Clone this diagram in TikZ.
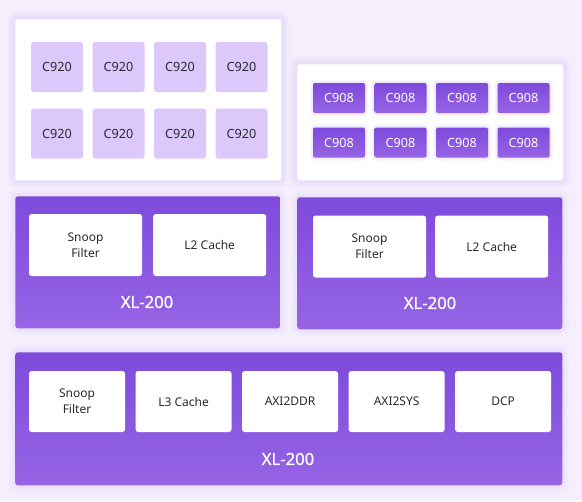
\documentclass[tikz,border=0pt]{standalone}
\usepackage{fontspec}
\setmainfont{Noto Sans}
\newfontfamily\xlfont[FakeBold=0.8]{Noto Sans}
\definecolor{XLtop}{HTML}{7E4ADC}
\definecolor{XLbot}{HTML}{9664E4}
\definecolor{Clight}{HTML}{DCC8FB}
\definecolor{BGlav}{HTML}{F5EFFD}
\definecolor{Halo}{HTML}{DCC8F8}
\definecolor{TXdark}{HTML}{2A2A30}
\usetikzlibrary{positioning}

\begin{document}
\begin{tikzpicture}[
  x=0.75pt,y=-0.75pt,
  panel/.style={rounded corners=2pt,minimum width=199.5pt,anchor=north west,inner sep=0pt},
  whitepanel/.style={panel,fill=white,
    preaction={draw=Halo,line width=12pt,opacity=0.12},
    preaction={draw=Halo,line width=8pt,opacity=0.15},
    preaction={draw=Halo,line width=4pt,opacity=0.2}},
  xlpanel/.style={panel,top color=XLtop,bottom color=XLbot,
    preaction={draw=Halo,line width=10pt,opacity=0.15},
    preaction={draw=Halo,line width=5pt,opacity=0.2}},
  bigcore/.style={fill=Clight,rounded corners=2pt,minimum width=39pt,minimum height=37.5pt,
    inner sep=0pt,text=TXdark,font=\fontsize{9.5}{11}\selectfont},
  smallcore/.style={top color=XLtop,bottom color=XLbot,rounded corners=1.5pt,minimum width=39pt,
    minimum height=22.5pt,inner sep=0pt,text=white,font=\fontsize{9.5}{11}\selectfont,
    preaction={draw=Halo,line width=5pt,opacity=0.15},
    preaction={draw=Halo,line width=2.5pt,opacity=0.25}},
  unitbox/.style={fill=white,rounded corners=2pt,minimum width=84.75pt,minimum height=46.5pt,
    inner sep=0pt,align=center,text=TXdark,font=\fontsize{9}{12}\selectfont},
  wideunit/.style={unitbox,minimum width=72pt,minimum height=45.75pt},
  xllabel/.style={text=white,font=\xlfont\fontsize{12.5}{14}\selectfont}
]
\fill[BGlav] (0,0) rectangle (582,501);
\useasboundingbox (0,0) rectangle (582,501);

% panels
\node[whitepanel,minimum height=120.75pt] (bigpanel) at (15,19) {};
\node[whitepanel,minimum height=87pt] (smallpanel) at (297,64) {};
\node[xlpanel,minimum width=198.75pt,minimum height=99pt] (xlleft) at (15,196) {};
\node[xlpanel,minimum width=198.75pt,minimum height=99pt] (xlright) at (297,197) {};
\node[xlpanel,minimum width=410.25pt,minimum height=99.75pt] (xlbottom) at (15,352) {};

% C920 cluster
\node[bigcore] (c1) at (57,67) {C920};
\node[bigcore,right=6.75pt of c1] (c2) {C920};
\node[bigcore,right=6.75pt of c2] (c3) {C920};
\node[bigcore,right=6.75pt of c3] (c4) {C920};
\node[bigcore,below=12pt of c1] (c5) {C920};
\node[bigcore,right=6.75pt of c5] (c6) {C920};
\node[bigcore,right=6.75pt of c6] (c7) {C920};
\node[bigcore,right=6.75pt of c7] (c8) {C920};

% C908 cluster
\node[smallcore] (d1) at (339,98) {C908};
\node[smallcore,right=6.75pt of d1] (d2) {C908};
\node[smallcore,right=6.75pt of d2] (d3) {C908};
\node[smallcore,right=6.75pt of d3] (d4) {C908};
\node[smallcore,below=10.5pt of d1] (d5) {C908};
\node[smallcore,right=6.75pt of d5] (d6) {C908};
\node[smallcore,right=6.75pt of d6] (d7) {C908};
\node[smallcore,right=6.75pt of d7] (d8) {C908};

% interconnects
\node[unitbox] (snoopL) at (85.5,245) {Snoop\\Filter};
\node[unitbox,right=8pt of snoopL] (l2L) {L2 Cache};
\node[xllabel] (xlL) at (147,302) {XL-200};

\node[unitbox] (snoopR) at (369.5,246.5) {Snoop\\Filter};
\node[unitbox,right=6.5pt of snoopR] (l2R) {L2 Cache};
\node[xllabel] (xlR) at (430,303) {XL-200};

\node[wideunit] (snoopB) at (77,401.5) {Snoop\\Filter};
\node[wideunit,right=7.5pt of snoopB] (l3B) {L3 Cache};
\node[wideunit,right=7.5pt of l3B] (ddrB) {AXI2DDR};
\node[wideunit,right=7.5pt of ddrB] (sysB) {AXI2SYS};
\node[wideunit,right=7.5pt of sysB] (dcpB) {DCP};
\node[xllabel] (xlB) at (288,459) {XL-200};
\end{tikzpicture}
\end{document}
